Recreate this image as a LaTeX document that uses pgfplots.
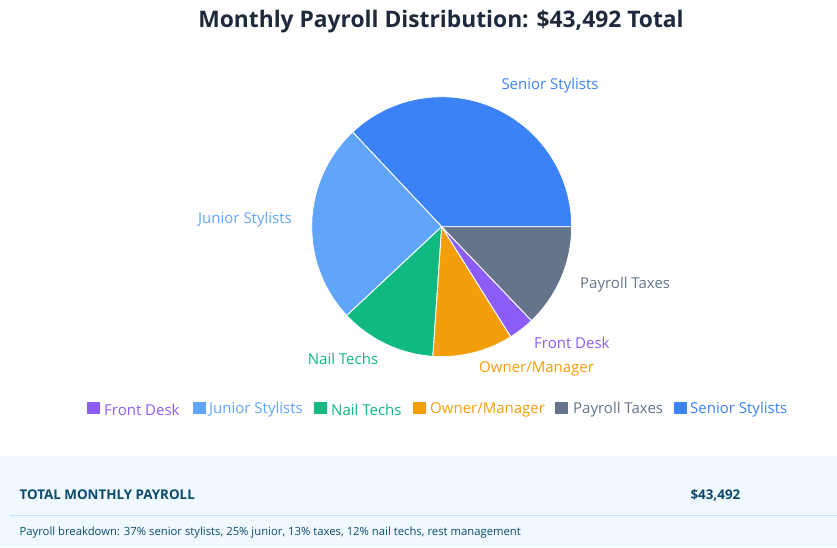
\documentclass[border=0pt]{standalone}
\usepackage{pgfplots}
\usepackage{pgfplotstable}
\pgfplotsset{compat=1.18}
\usepackage{fontspec}
\setmainfont{Open Sans}

\definecolor{cSenior}{HTML}{3B82F6}
\definecolor{cJunior}{HTML}{60A5FA}
\definecolor{cNail}{HTML}{10B981}
\definecolor{cOwner}{HTML}{F59E0B}
\definecolor{cFront}{HTML}{8B5CF6}
\definecolor{cTaxes}{HTML}{64748B}
\definecolor{cTitle}{HTML}{1E293B}
\definecolor{cPanel}{HTML}{F0F9FF}
\definecolor{cPanelText}{HTML}{0C4A6E}
\definecolor{cRule}{HTML}{BAE6FD}

% monthly payroll by role, in slice order (counter-clockwise from 3 o'clock)
\pgfplotstableread{
role value
Senior 16100
Junior 10850
Nail 5200
Owner 4350
Front 1400
Taxes 5592
}\payroll

% cumulative slice angles (values taken in thousands to stay within pgfmath range)
\pgfplotstablegetelem{0}{value}\of\payroll \let\vA\pgfplotsretval
\pgfplotstablegetelem{1}{value}\of\payroll \let\vB\pgfplotsretval
\pgfplotstablegetelem{2}{value}\of\payroll \let\vC\pgfplotsretval
\pgfplotstablegetelem{3}{value}\of\payroll \let\vD\pgfplotsretval
\pgfplotstablegetelem{4}{value}\of\payroll \let\vE\pgfplotsretval
\pgfplotstablegetelem{5}{value}\of\payroll \let\vF\pgfplotsretval
\pgfmathsetmacro{\total}{\vA/1000+\vB/1000+\vC/1000+\vD/1000+\vE/1000+\vF/1000}
\pgfmathsetmacro{\aA}{360*(\vA/1000)/\total}
\pgfmathsetmacro{\aB}{\aA+360*(\vB/1000)/\total}
\pgfmathsetmacro{\aC}{\aB+360*(\vC/1000)/\total}
\pgfmathsetmacro{\aD}{\aC+360*(\vD/1000)/\total}
\pgfmathsetmacro{\aE}{\aD+360*(\vE/1000)/\total}

\newcommand{\slice}[3]{% color, start angle, end angle
  \fill[#1, draw=white, line width=0.9pt, line join=round]
    (axis cs:441.7,320.3) -- ++({#2}:130pt) arc[start angle={#2}, end angle={#3}, radius=130pt] -- cycle;}

\begin{document}
\begin{tikzpicture}
\begin{axis}[
  x=1pt, y=1pt,
  xmin=0, xmax=837, ymin=0, ymax=547,
  scale only axis,
  hide axis,
  clip=false,
]
\coordinate (BL) at (axis cs:0,0);
\coordinate (TR) at (axis cs:837,547);

% bottom summary panel
\fill[cPanel] (axis cs:0,0) rectangle (axis cs:837,91);
\draw[cRule, line width=0.8pt] (axis cs:10,32) -- (axis cs:837,32);
\node[anchor=west, font=\fontsize{13.4}{15}\selectfont\bfseries, text=cPanelText] at (axis cs:16,52) {TOTAL MONTHLY PAYROLL};
\node[anchor=west, font=\fontsize{13.4}{15}\selectfont\bfseries, text=cPanelText] at (axis cs:687,52) {\$43,492};
\node[anchor=west, font=\fontsize{11.3}{13}\selectfont, text=cPanelText] at (axis cs:16,14) {Payroll breakdown: 37\% senior stylists, 25\% junior, 13\% taxes, 12\% nail techs, rest management};

% title
\node[font=\fontsize{22.8}{26}\selectfont\bfseries, text=cTitle] at (axis cs:441,525.5) {Monthly Payroll Distribution: \$43,492 Total};

% pie slices
\slice{cSenior}{0}{\aA}
\slice{cJunior}{\aA}{\aB}
\slice{cNail}{\aB}{\aC}
\slice{cOwner}{\aC}{\aD}
\slice{cFront}{\aD}{\aE}
\slice{cTaxes}{\aE}{360}

% slice labels
\begin{scope}[every node/.style={font=\fontsize{15}{17}\selectfont}]
\node[text=cSenior] at (axis cs:550,461.5) {Senior Stylists};
\node[text=cJunior] at (axis cs:245,327.5) {Junior Stylists};
\node[text=cTaxes, anchor=west, inner sep=0pt] at (axis cs:580,262.5) {Payroll Taxes};
\node[text=cFront, anchor=west, inner sep=0pt] at (axis cs:534,204) {Front Desk};
\node[text=cOwner, anchor=west, inner sep=0pt] at (axis cs:479,178) {Owner/Manager};
\node[text=cNail] at (axis cs:343,188.5) {Nail Techs};
\end{scope}

% legend
\begin{scope}[every node/.style={font=\fontsize{15}{17}\selectfont, anchor=west, inner sep=0pt}]
\fill[cFront]  (axis cs:87,133)  rectangle ++(13pt,12pt); \node[text=cFront]  at (axis cs:104,137) {Front Desk};
\fill[cJunior] (axis cs:193,133) rectangle ++(13pt,12pt); \node[text=cJunior] at (axis cs:209,137) {Junior Stylists};
\fill[cNail]   (axis cs:314,133) rectangle ++(13pt,12pt); \node[text=cNail]   at (axis cs:331,137) {Nail Techs};
\fill[cOwner]  (axis cs:413,133) rectangle ++(13pt,12pt); \node[text=cOwner]  at (axis cs:430,137) {Owner/Manager};
\fill[cTaxes]  (axis cs:555,133) rectangle ++(13pt,12pt); \node[text=cTaxes]  at (axis cs:573,137) {Payroll Taxes};
\fill[cSenior] (axis cs:674,133) rectangle ++(13pt,12pt); \node[text=cSenior] at (axis cs:690,137) {Senior Stylists};
\end{scope}
\end{axis}
\pgfresetboundingbox
\path (BL) rectangle (TR);
\end{tikzpicture}
\end{document}
